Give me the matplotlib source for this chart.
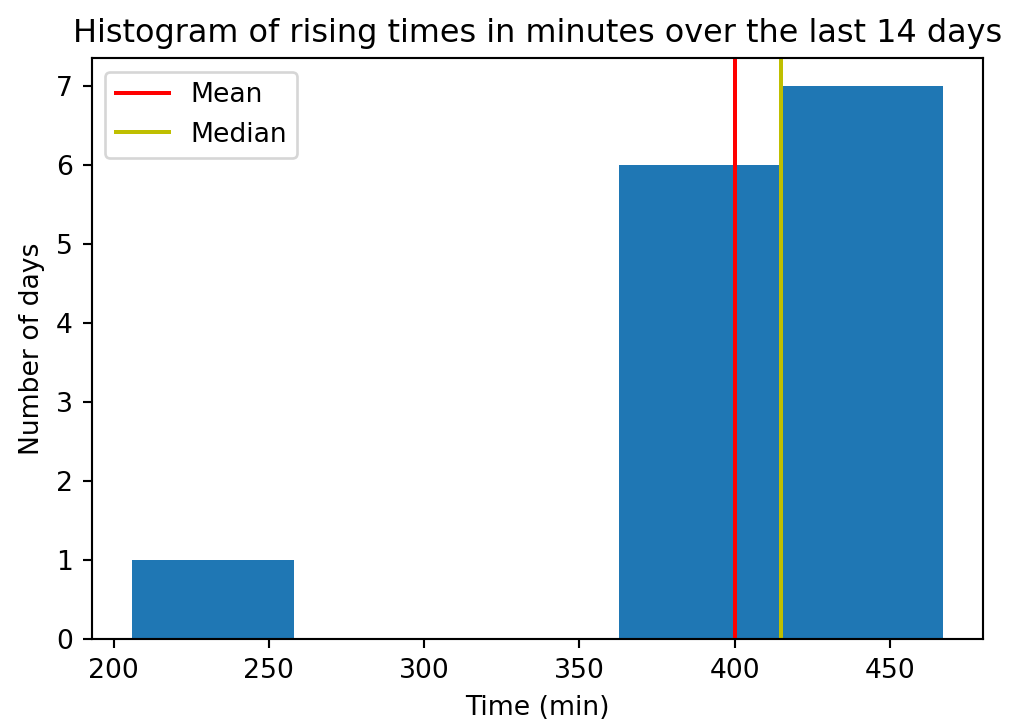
import matplotlib
matplotlib.use("Agg")
import matplotlib.pyplot as plt

# histogram bins
bin_edges = [206, 258.2, 310.4, 362.6, 414.8, 467]
day_counts = [1, 0, 0, 6, 7]
mean_time = 400
median_time = 415

scale_dpi = 191.5
fig = plt.figure(figsize=(1010 / scale_dpi, 723 / scale_dpi), dpi=scale_dpi)
ax = fig.add_axes([0.0908, 0.1158, 0.8828, 0.8036])

ax.hist(bin_edges[:-1], bins=bin_edges, weights=day_counts)
ax.axvline(mean_time, color="r", label="Mean")
ax.axvline(median_time, color="y", label="Median")

ax.set_title("Histogram of rising times in minutes over the last 14 days")
ax.set_xlabel("Time (min)")
ax.set_ylabel("Number of days")
ax.legend(loc="upper left")

fig.savefig("out.png", dpi=scale_dpi)
